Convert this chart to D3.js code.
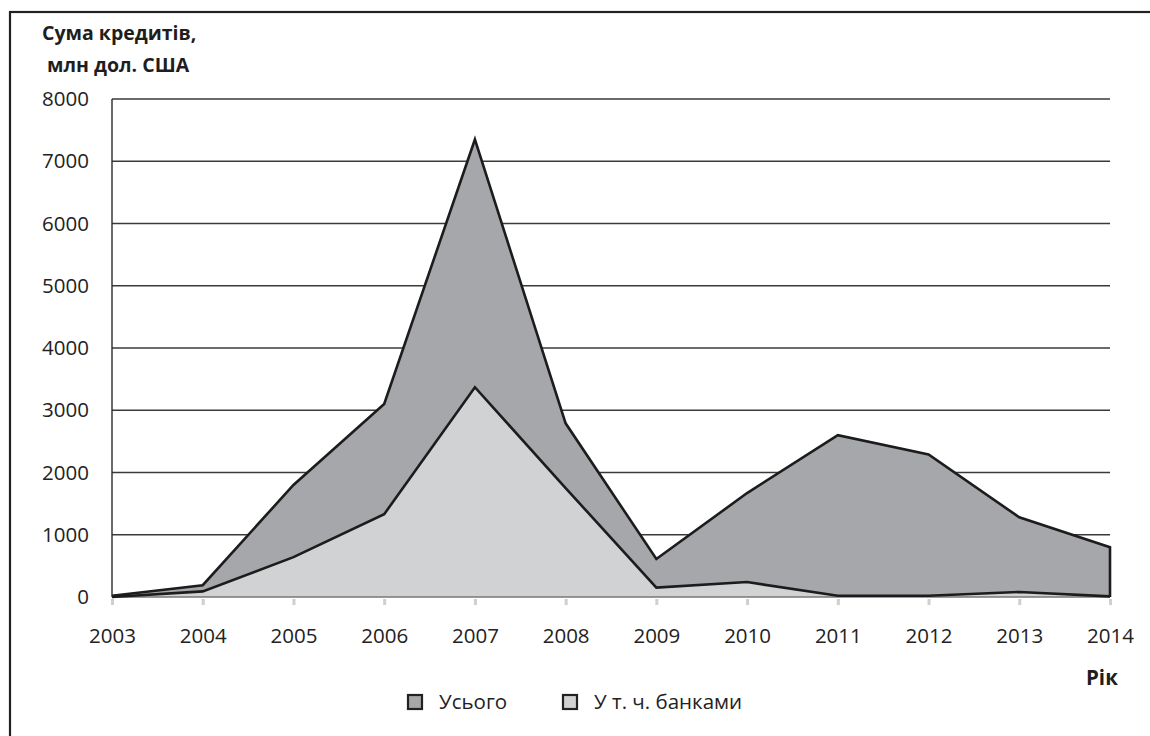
<!DOCTYPE html>
<html>
<head>
<meta charset="utf-8">
<script src="https://cdn.jsdelivr.net/npm/d3@7"></script>
<style>
  html, body { margin: 0; padding: 0; background: #fff; }
  svg { display: block; font-family: "Open Sans", "Noto Sans", sans-serif; }
</style>
</head>
<body>
<svg id="chart" width="1150" height="736"></svg>
<script>
// Years on the horizontal axis
const years = [2003, 2004, 2005, 2006, 2007, 2008, 2009, 2010, 2011, 2012, 2013, 2014];
// Total loans, mln USD
const totalLoans = [20, 190, 1800, 3100, 7350, 2790, 610, 1670, 2600, 2290, 1280, 800];
// Of which, by banks, mln USD
const bankLoans = [0, 90, 640, 1330, 3370, 1750, 150, 240, 20, 20, 80, 10];
// Vertical tick values
const yTicks = [0, 1000, 2000, 3000, 4000, 5000, 6000, 7000, 8000];

const seriesNames = ["Усього", "У т. ч. банками"];
const seriesFill = ["#a6a7ab", "#d1d2d4"];
const lineColor = "#1c1c1c";

const svg = d3.select("#chart");

// Outer frame
svg.append("rect")
  .attr("x", 10).attr("y", 12)
  .attr("width", 1160).attr("height", 760)
  .attr("fill", "none").attr("stroke", "#222").attr("stroke-width", 2.2);

const x = d3.scaleLinear().domain([2003, 2014]).range([112, 1110]);
const y = d3.scaleLinear().domain([0, 8000]).range([597, 99]);

// Horizontal gridlines
svg.append("g")
  .selectAll("line")
  .data(yTicks.filter(v => v > 0))
  .join("line")
  .attr("x1", x(2003)).attr("x2", x(2014))
  .attr("y1", d => y(d)).attr("y2", d => y(d))
  .attr("stroke", "#3a3a3a").attr("stroke-width", 1.4);

// Y axis labels
const yAxis = d3.axisLeft(y).tickValues(yTicks).tickSize(0).tickPadding(23).tickFormat(d3.format("d"));
const gy = svg.append("g").attr("transform", `translate(${x(2003)},0)`).call(yAxis);
gy.select(".domain").remove();
gy.selectAll("text")
  .attr("font-size", 20.5).attr("fill", "#222")
  .attr("font-family", "\"Open Sans\", sans-serif");

// Areas
const data = years.map((yr, i) => ({ yr, total: totalLoans[i], bank: bankLoans[i] }));
const areaTotal = d3.area().x(d => x(d.yr)).y0(y(0)).y1(d => y(d.total));
const areaBank = d3.area().x(d => x(d.yr)).y0(y(0)).y1(d => y(d.bank));
const lineTotal = d3.line().x(d => x(d.yr)).y(d => y(d.total));
const lineBank = d3.line().x(d => x(d.yr)).y(d => y(d.bank));

svg.append("path").datum(data).attr("d", areaTotal).attr("fill", seriesFill[0]);
svg.append("path").datum(data).attr("d", areaBank).attr("fill", seriesFill[1]);

// Baseline and tick marks
const xAxis = d3.axisBottom(x).tickValues(years).tickSize(8).tickPadding(23).tickFormat(d3.format("d"));
const gx = svg.append("g").attr("transform", `translate(0,${y(0)})`).call(xAxis);
gx.select(".domain").attr("stroke", "#777").attr("stroke-width", 1.5).attr("d", `M${x(2003)},0H${x(2014)}`);
gx.selectAll(".tick line").attr("stroke", "#cfcfcf").attr("stroke-width", 3).attr("y1", 2);
gx.selectAll("text")
  .attr("font-size", 20.5).attr("fill", "#222")
  .attr("font-family", "\"Open Sans\", sans-serif");

// Outlines
svg.append("path").datum(data).attr("d", lineBank)
  .attr("fill", "none").attr("stroke", lineColor).attr("stroke-width", 2.6).attr("stroke-linejoin", "miter");
const last = data[data.length - 1];
svg.append("path").datum(data)
  .attr("d", lineTotal(data) + `L${x(last.yr)},${y(0)}`)
  .attr("fill", "none").attr("stroke", lineColor).attr("stroke-width", 2.6).attr("stroke-linejoin", "miter");

// Left axis line
svg.append("line")
  .attr("x1", x(2003)).attr("x2", x(2003))
  .attr("y1", y(8000)).attr("y2", y(0))
  .attr("stroke", "#2a2a2a").attr("stroke-width", 1.4);

// Axis titles
const title = svg.append("text").attr("font-size", 19.5).attr("font-weight", 700).attr("fill", "#1e1e1e");
title.append("tspan").attr("x", 42).attr("y", 40).text("Сума кредитів,");
title.append("tspan").attr("x", 47).attr("y", 72).text("млн дол. США");

svg.append("text")
  .attr("x", 1086).attr("y", 685)
  .attr("font-size", 20.5).attr("font-weight", 700).attr("fill", "#1e1e1e")
  .text("Рік");

// Legend
const legendX = [408, 563];
const lg = svg.append("g")
  .selectAll("g")
  .data(seriesNames)
  .join("g")
  .attr("transform", (d, i) => `translate(${legendX[i]},695)`);
lg.append("rect")
  .attr("width", 14).attr("height", 14)
  .attr("fill", (d, i) => seriesFill[i])
  .attr("stroke", "#222").attr("stroke-width", 2.2);
lg.append("text")
  .attr("x", 31).attr("y", 14)
  .attr("font-size", 20.5).attr("fill", "#222")
  .text(d => d);
</script>
</body>
</html>
